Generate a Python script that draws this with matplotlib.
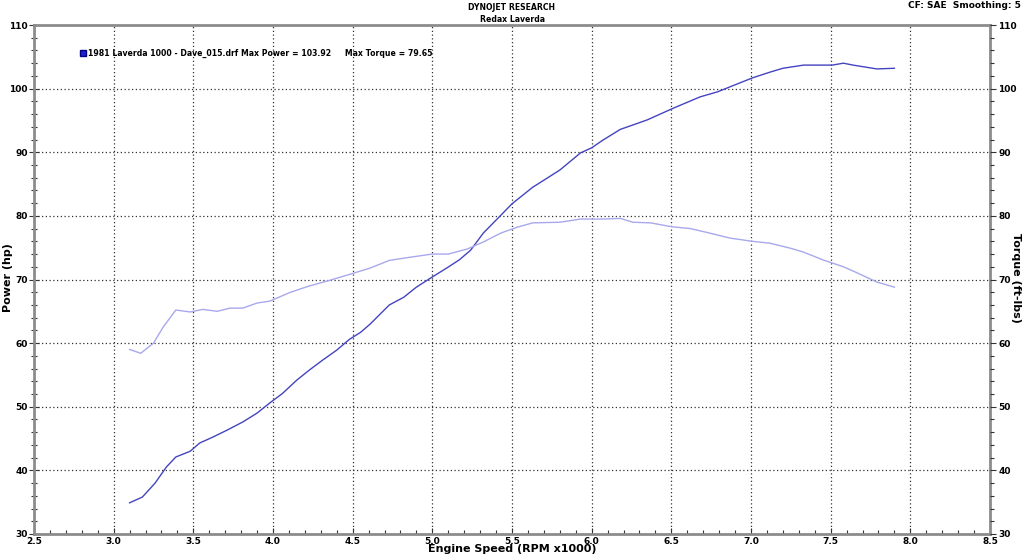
#!/usr/bin/env python3
"""Dynojet power / torque run, Redax Laverda."""
import matplotlib
matplotlib.use("Agg")
import matplotlib.pyplot as plt
from matplotlib.ticker import MultipleLocator, FormatStrFormatter

# Power curve (hp) vs engine speed (RPM x1000)
power_rpm = [3.10, 3.18, 3.26, 3.33, 3.39, 3.48, 3.54, 3.62, 3.71, 3.81,
             3.90, 3.98, 4.06, 4.15, 4.23, 4.31, 4.40, 4.48, 4.55, 4.61,
             4.73, 4.82, 4.90, 5.00, 5.09, 5.17, 5.24, 5.32, 5.43, 5.50,
             5.63, 5.80, 5.93, 6.00, 6.07, 6.18, 6.26, 6.35, 6.51, 6.68,
             6.79, 6.87, 7.01, 7.12, 7.20, 7.33, 7.51, 7.58, 7.64, 7.79,
             7.90]
power_hp = [34.9, 35.8, 38.0, 40.5, 42.1, 43.0, 44.3, 45.2, 46.3, 47.6,
            49.0, 50.6, 52.1, 54.2, 55.8, 57.3, 58.9, 60.6, 61.7, 63.0,
            66.0, 67.2, 68.8, 70.4, 71.8, 73.1, 74.6, 77.3, 80.1, 81.9,
            84.5, 87.2, 89.9, 90.7, 91.9, 93.6, 94.3, 95.1, 96.9, 98.7,
            99.5, 100.3, 101.7, 102.6, 103.2, 103.7, 103.7, 104.0, 103.7, 103.1,
            103.2]

# Torque curve (ft-lbs)
torque_rpm = [3.10, 3.17, 3.25, 3.31, 3.39, 3.48, 3.56, 3.65, 3.73, 3.81,
              3.90, 3.98, 4.11, 4.23, 4.36, 4.48, 4.61, 4.73, 4.86, 5.00,
              5.10, 5.22, 5.32, 5.43, 5.53, 5.63, 5.80, 5.93, 6.07, 6.18,
              6.26, 6.37, 6.50, 6.62, 6.74, 6.87, 7.01, 7.12, 7.25, 7.33,
              7.45, 7.58, 7.67, 7.79, 7.90]
torque_ftlb = [59.0, 58.4, 60.0, 62.5, 65.2, 64.9, 65.3, 65.0, 65.5, 65.5,
               66.3, 66.6, 68.0, 69.0, 69.9, 70.8, 71.8, 73.0, 73.5, 74.0,
               74.0, 74.8, 75.9, 77.3, 78.2, 78.9, 79.0, 79.5, 79.5, 79.6,
               79.0, 78.9, 78.3, 78.0, 77.3, 76.5, 76.0, 75.7, 74.9, 74.3,
               73.1, 72.0, 71.0, 69.6, 68.8]

POWER_COLOR = "#4444c0"
TORQUE_COLOR = "#a8a8ec"
FRAME_COLOR = "#8c8c8c"
TXT = dict(fontsize=6.5, fontweight="bold")
LABEL = dict(fontsize=8, fontweight="bold")
SMALL = dict(fontsize=5.6, fontweight="bold")

fig = plt.figure(figsize=(10.24, 5.56), dpi=100)
ax = fig.add_axes([0.0332, 0.0396, 0.9336, 0.9154])

ax.plot(power_rpm, power_hp, color=POWER_COLOR, linewidth=1.0)
ax.plot(torque_rpm, torque_ftlb, color=TORQUE_COLOR, linewidth=1.0)

ax.set_xlim(2.5, 8.5)
ax.set_ylim(30, 110)
ax.xaxis.set_major_locator(MultipleLocator(0.5))
ax.xaxis.set_minor_locator(MultipleLocator(0.1))
ax.yaxis.set_major_locator(MultipleLocator(10))
ax.yaxis.set_minor_locator(MultipleLocator(2))
ax.xaxis.set_major_formatter(FormatStrFormatter("%.1f"))

ax.grid(True, which="major", color="#333333", linestyle=(0, (1, 2)), linewidth=0.9)
for s in ax.spines.values():
    s.set_color(FRAME_COLOR)
    s.set_linewidth(2.0)

ax.tick_params(axis="both", which="both", color="#333333", width=0.8)
ax.tick_params(axis="y", which="major", direction="inout", length=7, pad=1)
ax.tick_params(axis="y", which="minor", direction="inout", length=5)
ax.tick_params(axis="x", which="major", direction="in", length=4, pad=2)
ax.tick_params(axis="x", which="minor", direction="in", length=3)
for lbl in ax.get_xticklabels() + ax.get_yticklabels():
    lbl.set_fontsize(6.5)
    lbl.set_fontweight("bold")

# Right torque axis on the same scale
ax2 = ax.twinx()
ax2.set_ylim(30, 110)
ax2.yaxis.set_major_locator(MultipleLocator(10))
ax2.yaxis.set_minor_locator(MultipleLocator(2))
ax2.tick_params(axis="y", which="major", direction="out", length=4, pad=2,
                color="#333333", width=0.8)
ax2.tick_params(axis="y", which="minor", direction="out", length=3,
                color="#333333", width=0.8)
for lbl in ax2.get_yticklabels():
    lbl.set_fontsize(6.5)
    lbl.set_fontweight("bold")
for s in ax2.spines.values():
    s.set_visible(False)

fig.text(8 / 1024, 0.5, "Power (hp)", rotation=90, ha="center", va="center", **LABEL)
fig.text(1016 / 1024, 0.5, "Torque (ft-lbs)", rotation=-90, ha="center", va="center", **LABEL)
fig.text(0.5, 1 - 549 / 556, "Engine Speed (RPM x1000)", ha="center", va="center", **LABEL)

fig.text(0.5, 1 - 7 / 556, "DYNOJET RESEARCH", ha="center", va="center", **SMALL)
fig.text(0.5, 1 - 19 / 556, "Redax Laverda", ha="center", va="center", **SMALL)
fig.text(0.997, 1 - 5 / 556, "CF: SAE  Smoothing: 5", ha="right", va="center", **TXT)

# run label with its colour swatch
ax.plot([2.81], [105.6], marker="s", markersize=5, color="#2020d0",
        markeredgecolor="#000080", clip_on=False)
ax.text(2.84, 105.6,
        "1981 Laverda 1000 - Dave_015.drf Max Power = 103.92     Max Torque = 79.65",
        va="center", ha="left", **SMALL)

fig.savefig("out.png", dpi=100)
